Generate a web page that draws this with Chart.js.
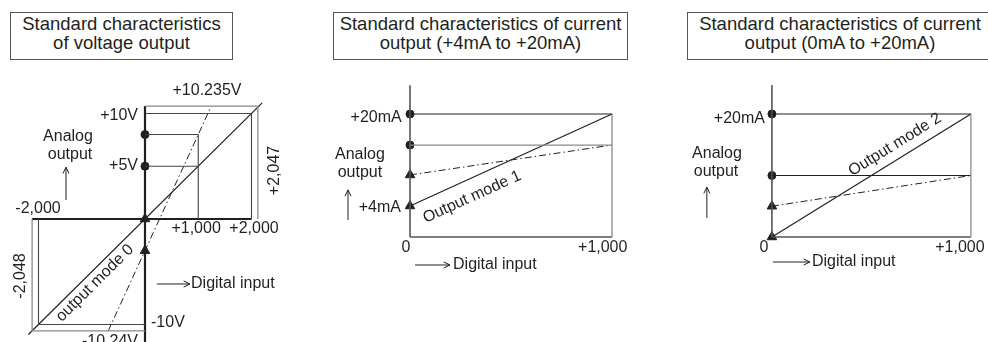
<!DOCTYPE html>
<html>
<head>
<meta charset="utf-8">
<script src="https://cdn.jsdelivr.net/npm/chart.js@4.4.0/dist/chart.umd.min.js"></script>
<style>
  html, body { margin: 0; padding: 0; background: #fff; }
  body { width: 988px; height: 342px; position: relative; overflow: hidden;
         font-family: "Liberation Sans", Arial, sans-serif; color: #231f20; }
  .title { position: absolute; top: 12px; height: 48px; box-sizing: border-box;
           border: 1px solid #555; text-align: center; font-size: 18.5px; line-height: 19px; padding-top: 1px; }
  canvas { position: absolute; }
</style>
</head>
<body>
<div class="title" style="left:10px;width:223px;">Standard characteristics<br>of voltage output</div>
<div class="title" style="left:333px;width:295px;">Standard characteristics of current<br>output (+4mA to +20mA)</div>
<div class="title" style="left:687px;width:306px;">Standard characteristics of current<br>output (0mA to +20mA)</div>

<canvas id="volt" width="300" height="272" style="left:0px;top:70px;"></canvas>
<canvas id="cur4" width="300" height="220" style="left:330px;top:70px;"></canvas>
<canvas id="cur0" width="308" height="220" style="left:680px;top:70px;"></canvas>

<script>
// ---- voltage output (digital input -> volts) ----
const voltMode0 = [[-2190, -10.95], [2200, 11.0]];
const voltUser = [[-690, -10.6], [1245, 10.7]];
const voltDots = [[0, 8], [0, 5]];
const voltTriangles = [[0, 0], [0, -3]];
const voltGuides = [
    [[0, 8], [1000, 8], [1000, 0]],
    [[0, 5], [1000, 5]],
    [[0, 10], [2000, 10], [2000, 0]],
    [[-2000, 0], [-2000, -10], [0, -10]]
];
const voltLimits = [
    [[0, 10.7], [2120, 10.7], [2120, 0]],
    [[-2120, 0], [-2120, -10.6], [0, -10.6]]
];
const voltAxes = [[[-2120, 0], [2000, 0]], [[0, 10.7], [0, -11.7]]];
const voltLabels = ['+10.235V', '+10V', '+5V', '-2,000', '+1,000', '+2,000', '+2,047', '-2,048', '-10V', '-10.24V'];

// ---- current output +4mA..+20mA ----
const cur4Mode1 = [[0, 4], [1000, 20]];
const cur4User = [[0, 9.4], [1000, 14.6]];
const cur4Dots = [[0, 20], [0, 14.6]];
const cur4Triangles = [[0, 9.4], [0, 4]];
const cur4Guides = [[[0, 20], [1000, 20]]];
const cur4Greys = [[[0, 14.6], [1000, 14.6]], [[1000, 20], [1000, -1.4]]];
const cur4Axes = [[[0, 25], [0, -1.4]], [[0, -1.4], [1000, -1.4]]];
const cur4Labels = ['+20mA', '+4mA', '0', '+1,000'];

// ---- current output 0mA..+20mA ----
const cur0Mode2 = [[0, 0], [1000, 20]];
const cur0User = [[0, 5], [1000, 10]];
const cur0Dots = [[0, 20], [0, 10]];
const cur0Triangles = [[0, 5], [0, 0]];
const cur0Guides = [[[0, 20], [1000, 20]], [[0, 10], [1000, 10]]];
const cur0Greys = [[[1000, 20], [1000, 0]]];
const cur0Axes = [[[0, 24.7], [0, 0]], [[0, 0], [1000, 0]]];
const cur0Labels = ['+20mA', '0', '+1,000'];

const INK = '#231f20';
const GREY = '#8a8a8a';

function pts(list) {
    return list.map(p => ({x: p[0], y: p[1]}));
}

function line(list, color, width, dash) {
    return {
        data: pts(list), showLine: true, borderColor: color, borderWidth: width,
        borderDash: dash || [], pointRadius: 0, fill: false, tension: 0, clip: false
    };
}

function marks(list, style, r) {
    return {
        data: pts(list), showLine: false, pointStyle: style, pointRadius: r,
        backgroundColor: INK, borderColor: INK, borderWidth: 1, clip: false
    };
}

// text + little arrows, placed in data units through the chart scales
const notesPlugin = {
    id: 'notes',
    afterDatasetsDraw(chart, args, opts) {
        const ctx = chart.ctx;
        const xs = chart.scales.x, ys = chart.scales.y;
        ctx.save();
        ctx.fillStyle = INK;
        ctx.strokeStyle = INK;
        ctx.font = '16px "Liberation Sans", Arial, sans-serif';
        ctx.textBaseline = 'middle';
        (opts.items || []).forEach(it => {
            if (it.arrow) {
                const x1 = xs.getPixelForValue(it.from[0]), y1 = ys.getPixelForValue(it.from[1]);
                const x2 = xs.getPixelForValue(it.to[0]), y2 = ys.getPixelForValue(it.to[1]);
                const a = Math.atan2(y2 - y1, x2 - x1);
                ctx.lineWidth = 1;
                ctx.beginPath();
                ctx.moveTo(x1, y1);
                ctx.lineTo(x2, y2);
                ctx.moveTo(x2 - 7 * Math.cos(a - 0.45), y2 - 7 * Math.sin(a - 0.45));
                ctx.lineTo(x2, y2);
                ctx.lineTo(x2 - 7 * Math.cos(a + 0.45), y2 - 7 * Math.sin(a + 0.45));
                ctx.stroke();
                return;
            }
            const px = xs.getPixelForValue(it.x), py = ys.getPixelForValue(it.y);
            let rot = it.rot || 0;
            if (it.along) {
                const p0 = it.along[0], p1 = it.along[1];
                rot = Math.atan2(ys.getPixelForValue(p1[1]) - ys.getPixelForValue(p0[1]),
                                 xs.getPixelForValue(p1[0]) - xs.getPixelForValue(p0[0])) * 180 / Math.PI;
            }
            ctx.save();
            ctx.translate(px, py);
            ctx.rotate(rot * Math.PI / 180);
            ctx.textAlign = it.align || 'center';
            ctx.fillText(it.t, 0, 0);
            ctx.restore();
        });
        ctx.restore();
    }
};

function makeChart(id, datasets, range, items) {
    return new Chart(document.getElementById(id), {
        type: 'scatter',
        data: {datasets: datasets},
        options: {
            responsive: false,
            animation: false,
            events: [],
            layout: {padding: 0, autoPadding: false},
            plugins: {legend: {display: false}, tooltip: {enabled: false}, notes: {items: items}},
            scales: {
                x: {type: 'linear', display: false, min: range[0], max: range[1]},
                y: {type: 'linear', display: false, min: range[2], max: range[3]}
            }
        },
        plugins: [notesPlugin]
    });
}

// voltage chart
makeChart('volt', [
    ...voltLimits.map(l => line(l, GREY, 1.3)),
    ...voltGuides.map(l => line(l, '#444', 1.1)),
    ...voltAxes.map(l => line(l, INK, 2.2)),
    line(voltUser, INK, 1, [7, 3, 1.5, 3]),
    line(voltMode0, INK, 1.2),
    marks(voltDots, 'circle', 4),
    marks(voltTriangles, 'triangle', 5.5)
], [-2723, 2911, -11.66, 14.12], [
    {t: voltLabels[0], x: 1164, y: 12.2},
    {t: voltLabels[1], x: -131, y: 9.8, align: 'right'},
    {t: voltLabels[2], x: -131, y: 5.1, align: 'right'},
    {t: 'Analog', x: -1446, y: 7.8},
    {t: 'output', x: -1408, y: 6.07},
    {arrow: true, from: [-1484, 1.8], to: [-1484, 4.9]},
    {t: voltLabels[3], x: -2009, y: 0.95},
    {t: voltLabels[4], x: 960, y: -0.95},
    {t: voltLabels[5], x: 2047, y: -0.95},
    {t: voltLabels[6], x: 2441, y: 4.6, rot: -90},
    {t: voltLabels[7], x: -2329, y: -5.4, rot: -90},
    {t: 'output mode 0', x: -939, y: -6.07, along: voltMode0},
    {arrow: true, from: [225, -6.16], to: [845, -6.16]},
    {t: 'Digital input', x: 865, y: -6.16, align: 'left'},
    {t: voltLabels[8], x: 113, y: -9.86, align: 'left'},
    {t: voltLabels[9], x: -657, y: -11.6}
]);

// +4..+20mA chart
makeChart('cur4', [
    ...cur4Greys.map(l => line(l, GREY, 1.3)),
    ...cur4Guides.map(l => line(l, INK, 1.1)),
    ...cur4Axes.map(l => line(l, '#555', 1.6)),
    line(cur4User, INK, 1, [7, 3, 1.5, 3]),
    line(cur4Mode1, INK, 1.2),
    marks(cur4Dots, 'circle', 4),
    marks(cur4Triangles, 'triangle', 5.5)
], [-396, 1089, -10.61, 27.65], [
    {t: cur4Labels[0], x: -41, y: 19.3, align: 'right'},
    {t: cur4Labels[1], x: -45, y: 3.65, align: 'right'},
    {t: 'Analog', x: -248, y: 13.0},
    {t: 'output', x: -248, y: 9.74},
    {arrow: true, from: [-307, 1.57], to: [-307, 6.8]},
    {t: cur4Labels[2], x: -20, y: -3.3},
    {t: cur4Labels[3], x: 954, y: -3.3},
    {arrow: true, from: [25, -6.26], to: [198, -6.26]},
    {t: 'Digital input', x: 213, y: -6.26, align: 'left'},
    {t: 'Output mode 1', x: 307, y: 5.57, along: cur4Mode1}
]);

// 0..+20mA chart
makeChart('cur0', [
    ...cur0Greys.map(l => line(l, GREY, 1.3)),
    ...cur0Guides.map(l => line(l, INK, 1.1)),
    ...cur0Axes.map(l => line(l, '#555', 1.6)),
    line(cur0User, INK, 1, [7, 3, 1.5, 3]),
    line(cur0Mode2, INK, 1.2),
    marks(cur0Dots, 'circle', 4),
    marks(cur0Triangles, 'triangle', 5.5)
], [-462, 1086, -8.62, 27.15], [
    {t: cur0Labels[0], x: -35, y: 19.3, align: 'right'},
    {t: 'Analog', x: -276, y: 13.5},
    {t: 'output', x: -281, y: 10.6},
    {arrow: true, from: [-327, 3.1], to: [-327, 8.1]},
    {t: cur0Labels[1], x: -40, y: -1.8},
    {t: cur0Labels[2], x: 945, y: -1.8},
    {arrow: true, from: [5, -4.07], to: [191, -4.07]},
    {t: 'Digital input', x: 201, y: -4.07, align: 'left'},
    {t: 'Output mode 2', x: 618, y: 15.0, along: cur0Mode2}
]);
</script>
</body>
</html>
